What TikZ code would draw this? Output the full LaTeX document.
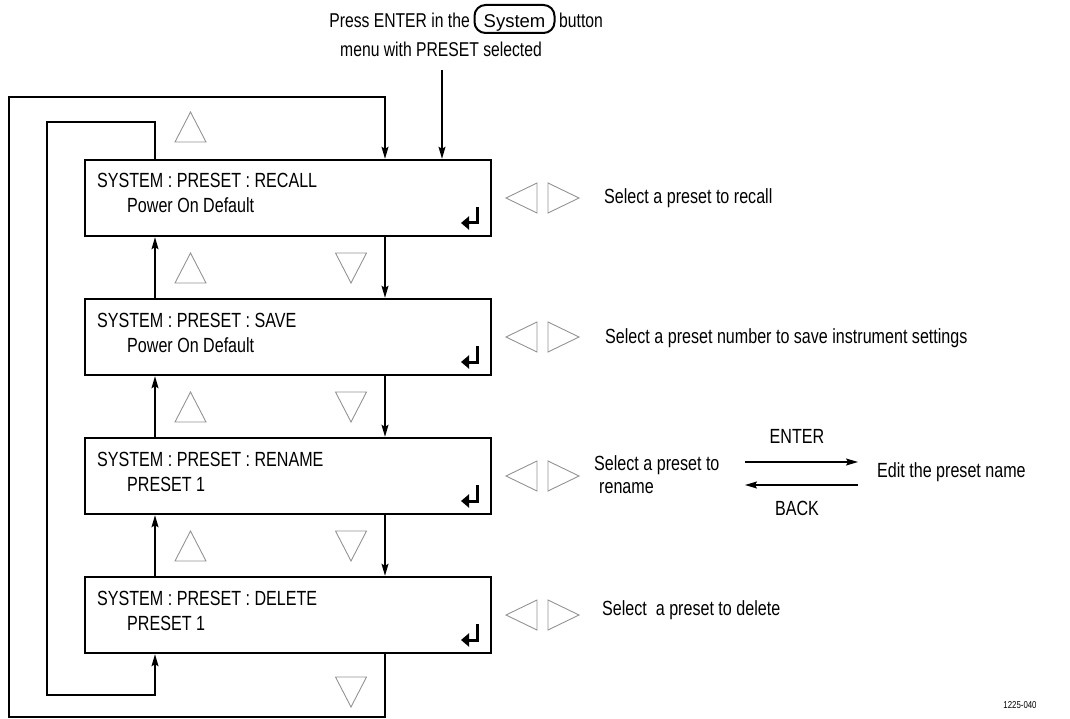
\documentclass[tikz,border=0pt]{standalone}
\usepackage{fontspec}
\setmainfont{Liberation Sans}[FakeStretch=0.785]
\newfontfamily\widesans{Liberation Sans}
\usetikzlibrary{arrows.meta}
\begin{document}
\begin{tikzpicture}[x=1pt,y=-1pt,
  box/.style={draw, line width=2.5pt, minimum width=406pt, minimum height=76pt, inner sep=0pt},
  txt/.style={font=\fontsize{20.5}{24.6}\selectfont, inner sep=0pt},
  toptxt/.style={font=\fontsize{20}{24}\selectfont, inner sep=0pt},
  conn/.style={line width=1.3pt, -{Stealth[length=12pt,width=7pt,inset=2pt]}},
  tri/.style={draw=gray!85, line width=0.9pt, line join=miter},
  ret/.style={line width=3pt, -{Triangle[length=8pt,width=13pt]}}
]
\useasboundingbox (0,0) rectangle (1070,719);

% top instruction
\node[toptxt, anchor=base east] (p1) at (470,28) {Press ENTER in the};
\node[anchor=base, draw, rounded corners=11pt, line width=2pt, minimum width=80pt,
      font=\widesans\fontsize{18.5}{22}\selectfont,
      text height=21pt, text depth=3pt, inner ysep=2pt, inner xsep=0pt] (sys) at (514.5,28) {System};
\node[toptxt, anchor=base west] (p2) at (559,28) {button};
\node[toptxt, anchor=base] (p3) at (441,57) {menu with PRESET selected};

% boxes
\node[box] (b1) at (288,198) {};
\node[box] (b2) at (288,337) {};
\node[box] (b3) at (288,476) {};
\node[box] (b4) at (288,615) {};

\node[txt, anchor=base west] (b1a) at (97,188) {SYSTEM : PRESET : RECALL};
\node[txt, anchor=base west] (b1b) at (127,213) {Power On Default};
\node[txt, anchor=base west] (b2a) at (97,327) {SYSTEM : PRESET : SAVE};
\node[txt, anchor=base west] (b2b) at (127,352) {Power On Default};
\node[txt, anchor=base west] (b3a) at (97,466) {SYSTEM : PRESET : RENAME};
\node[txt, anchor=base west] (b3b) at (127,491) {PRESET 1};
\node[txt, anchor=base west] (b4a) at (97,605) {SYSTEM : PRESET : DELETE};
\node[txt, anchor=base west] (b4b) at (127,630) {PRESET 1};

% return symbols
\foreach \t in {160,299,438,577} {
  \draw[ret] (477,\t+47) -- (477,\t+63) -- (461,\t+63);
}

% left/right triangles
\foreach \cy in {198,337,476,615} {
  \draw[tri] (506,\cy) -- (537,\cy-15) -- (537,\cy+15) -- cycle;
  \draw[tri] (579,\cy) -- (548,\cy-15) -- (548,\cy+15) -- cycle;
}
% up triangles
\foreach \ty in {112,253,392,531} {
  \draw[tri] (175,\ty+30) -- (190.5,\ty) -- (206,\ty+30) -- cycle;
}
% down triangles
\foreach \ty in {253,392,531,677} {
  \draw[tri] (335.5,\ty) -- (351,\ty+30) -- (366.5,\ty) -- cycle;
}

% connector columns
\coordinate (xl) at (155,0);
\coordinate (xr) at (385,0);
\coordinate (tin) at (442,70);
\coordinate (otl) at (9,97);
\coordinate (obl) at (9,717);
\coordinate (itl) at (47,122);
\coordinate (ibl) at (47,695);

\draw[conn] (tin) -- (b1.north -| tin);
\draw[conn] (b4.south -| xr) |- (obl) -- (otl) -| (b1.north -| xr);
\draw[conn] (b1.north -| xl) |- (itl) -- (ibl) -| (b4.south -| xl);

\draw[conn] (b1.south -| xr) -- (b2.north -| xr);
\draw[conn] (b2.south -| xr) -- (b3.north -| xr);
\draw[conn] (b3.south -| xr) -- (b4.north -| xr);
\draw[conn] (b2.north -| xl) -- (b1.south -| xl);
\draw[conn] (b3.north -| xl) -- (b2.south -| xl);
\draw[conn] (b4.north -| xl) -- (b3.south -| xl);

% right-hand descriptions
\node[txt, anchor=base west] (r1) at (604,204) {Select a preset to recall};
\node[txt, anchor=base west] (r2) at (605,343) {Select a preset number to save instrument settings};
\node[txt, anchor=base west] (r3a) at (594,470) {Select a preset to};
\node[txt, anchor=base west] (r3b) at (599,493) {rename};
\node[txt, anchor=base west] (r4) at (602,615) {Select\ \ a preset to delete};

\node[txt, anchor=base] (enter) at (797,443) {ENTER};
\node[txt, anchor=base] (back) at (797,515) {BACK};
\node[txt, anchor=base west] (edit) at (877,477) {Edit the preset name};
\coordinate (ea) at (745,462);
\coordinate (eb) at (858,462);
\coordinate (ba) at (858,485);
\coordinate (bb) at (745,485);
\draw[conn] (ea) -- (eb);
\draw[conn] (ba) -- (bb);

\node[font=\fontsize{10}{12}\selectfont, inner sep=0pt] (code) at (1020,705) {1225-040};
\end{tikzpicture}
\end{document}
